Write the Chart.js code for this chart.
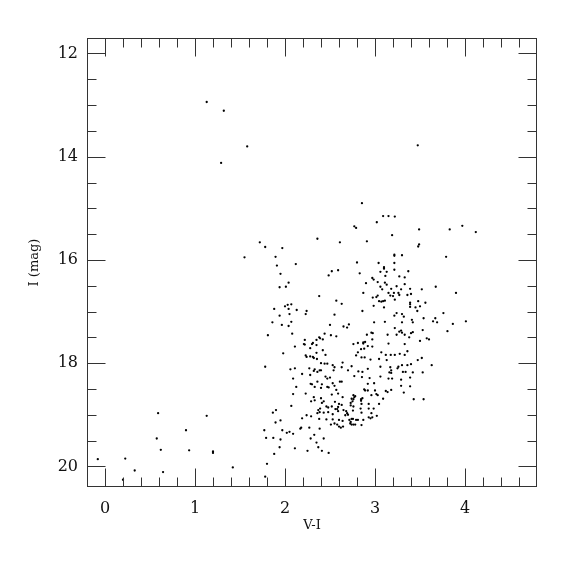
<!DOCTYPE html>
<html>
<head>
<meta charset="utf-8">
<title>CMD</title>
<script src="https://cdn.jsdelivr.net/npm/chart.js@4.4.0/dist/chart.umd.min.js"></script>
<style>
    html, body { margin: 0; padding: 0; background: #fff; }
    #wrap { width: 575px; height: 575px; }
</style>
</head>
<body>
<div id="wrap"><canvas id="cmd" width="575" height="575"></canvas></div>
<script>
// V-I colour and I magnitude of each star
const vi = [
    1.13, 1.32, 1.58, 1.29, 3.475, 2.855,
    1.72, 1.78, 1.97, 1.55, 1.895, 2.12, 1.91, 1.95, 1.94, 2.01, 2.04, 2.36, 2.61, 2.59, 2.52, 2.485,
    3.09, 3.15, 3.22, 3.02, 2.77, 2.79, 3.49, 3.83, 3.19, 2.91, 3.49, 3.48, 3.215, 3.215, 3.30, 3.79,
    2.80, 3.04, 3.215, 3.10, 3.10, 3.215, 3.37, 2.83, 3.06, 3.13, 3.115, 3.27, 3.33, 2.97, 2.985, 2.90,
    3.03, 3.11, 3.33, 3.13, 3.06, 3.24, 3.675, 3.08, 3.18, 3.29, 3.39, 3.52,
    3.97, 4.12, 3.90, 4.01, 3.865,
    2.38, 2.57, 2.63, 2.00, 2.03, 2.07, 1.88, 2.04, 2.24, 2.13, 2.23, 2.05, 1.94, 2.55, 1.86, 2.07,
    1.965, 2.04, 2.50, 2.65, 2.69, 2.71, 2.08, 1.81, 2.44, 2.51, 2.57, 2.38, 2.39, 2.35, 2.22, 2.42,
    2.21, 2.22, 2.31, 2.30, 2.35, 2.28, 2.11, 2.42, 2.35, 1.98, 2.45, 2.23, 2.24, 2.28, 2.31, 2.355,
    2.32, 2.40, 2.44, 2.47, 2.53, 2.64, 1.78, 2.06, 2.11, 2.27, 2.33, 2.32, 2.36, 2.385, 2.40, 2.55,
    2.54, 2.63, 2.70, 2.19, 2.28, 2.45, 2.47, 2.50, 2.09,
    2.87, 2.975, 3.015, 3.03, 3.15, 3.17, 3.20, 3.21, 3.26, 3.27, 3.36, 3.40, 3.48, 3.045, 3.07, 3.09,
    3.11, 3.22, 3.39, 3.39, 3.39, 2.985, 3.56, 3.45, 3.50, 3.10, 2.86, 3.47, 3.24, 3.76, 3.215, 3.30,
    3.32, 3.54, 3.67, 3.645, 3.69, 3.41, 3.42, 3.11, 2.99, 3.30, 3.53, 3.805, 3.22, 3.27, 3.29, 3.30,
    3.40, 3.42, 2.96, 2.975, 2.91, 3.14, 3.24, 3.33, 3.38, 3.575, 3.60, 2.97, 2.89, 2.87, 2.87, 2.76,
    2.81, 3.50, 3.15, 3.33, 2.92, 2.97, 2.845, 2.88, 2.81, 2.79, 3.36, 3.07, 2.85, 2.885, 3.12, 3.175,
    3.22, 3.275, 3.33, 2.95, 3.045, 3.13, 3.475, 3.52, 3.40, 3.30, 3.36, 2.74, 3.63, 3.06, 3.17, 3.18,
    3.26, 3.25, 2.815, 2.86, 2.92, 3.16, 3.18, 3.31, 3.34, 3.42, 3.53, 2.77, 2.855, 2.94, 3.06, 3.15,
    3.19, 3.29, 3.39,
    2.285, 2.30, 2.36, 2.41, 2.47, 2.485, 2.33, 2.40, 2.125, 2.53, 2.55, 2.61, 2.63, 2.57, 2.52, 2.59,
    2.64, 2.09, 2.23, 2.32, 2.33, 2.40, 2.43, 2.41, 2.29, 2.555, 2.60, 2.63, 2.59, 2.52, 2.46, 2.48,
    2.56, 2.58, 2.07, 1.90, 1.865, 2.39, 2.37, 2.385, 2.36, 2.43, 2.48, 2.53, 2.59, 2.65, 2.68, 2.69,
    2.70, 2.67, 2.24, 2.29, 2.19, 2.38, 2.46, 2.53, 2.60, 2.64, 2.715, 1.895, 1.95, 2.55, 2.58, 2.51,
    2.60, 2.62, 2.645, 2.385, 2.27, 1.77, 1.97, 2.17, 2.18, 2.02, 2.05, 2.09, 1.79, 1.87, 1.95, 2.325,
    2.285, 2.43, 2.35, 1.94, 2.11, 2.37, 2.25, 2.41, 2.485, 1.88, 1.80, 1.78,
    2.92, 2.99, 3.39, 3.29, 2.88, 2.89, 2.92, 3.00, 3.12, 3.14, 3.18, 2.96, 3.015, 3.03, 3.32, 2.76,
    2.78, 2.77, 2.74, 2.76, 2.75, 2.86, 2.845, 2.845, 3.09, 3.43, 3.54, 2.73, 2.85, 2.93, 3.045, 2.73,
    2.76, 2.84, 2.93, 2.985, 2.755, 2.85, 2.96, 3.02, 2.93, 2.95, 2.97, 2.74, 2.755, 2.79, 2.81, 2.87,
    2.73, 2.725, 2.74, 2.76, 2.78, 2.85,
    0.59, 1.13, 0.90, 0.575, 0.62, 0.935, 1.20, 1.20, -0.08, 0.225, 0.33, 0.645, 1.42, 0.20
];
const imag = [
    12.94, 13.11, 13.80, 14.12, 13.78, 14.90,
    15.66, 15.75, 15.77, 15.95, 15.94, 16.08, 16.11, 16.27, 16.53, 16.52, 16.44, 15.59, 15.66, 16.20, 16.22, 16.30,
    15.15, 15.15, 15.16, 15.27, 15.35, 15.38, 15.41, 15.41, 15.52, 15.64, 15.70, 15.74, 15.90, 15.92, 15.91, 15.94,
    16.05, 16.06, 16.06, 16.14, 16.17, 16.19, 16.22, 16.26, 16.23, 16.23, 16.31, 16.32, 16.34, 16.35, 16.38, 16.45,
    16.43, 16.44, 16.47, 16.48, 16.52, 16.51, 16.52, 16.57, 16.56, 16.57, 16.56, 16.57,
    15.34, 15.46, 16.64, 17.19, 17.24,
    16.70, 16.79, 16.85, 16.90, 16.87, 16.86, 16.95, 16.95, 16.99, 16.97, 17.05, 17.05, 17.08, 17.06, 17.21, 17.20,
    17.26, 17.28, 17.26, 17.29, 17.31, 17.25, 17.43, 17.46, 17.43, 17.46, 17.48, 17.50, 17.52, 17.55, 17.55, 17.54,
    17.63, 17.64, 17.61, 17.63, 17.65, 17.71, 17.68, 17.75, 17.80, 17.81, 17.84, 17.85, 17.88, 17.87, 17.88, 17.92,
    17.90, 18.00, 18.01, 18.01, 18.04, 17.99, 18.07, 18.12, 18.10, 18.10, 18.12, 18.15, 18.17, 18.14, 18.14, 18.08,
    18.14, 18.08, 18.14, 18.21, 18.23, 18.26, 18.30, 18.28, 18.30,
    16.64, 16.73, 16.72, 16.69, 16.64, 16.69, 16.70, 16.64, 16.64, 16.68, 16.68, 16.66, 16.80, 16.80, 16.81, 16.80,
    16.79, 16.77, 16.83, 16.86, 16.91, 16.89, 16.83, 16.92, 16.90, 16.92, 16.99, 16.99, 17.03, 17.03, 17.08, 17.05,
    17.10, 17.13, 17.13, 17.19, 17.21, 17.16, 17.21, 17.20, 17.21, 17.21, 17.36, 17.38, 17.32, 17.39, 17.37, 17.41,
    17.42, 17.40, 17.41, 17.42, 17.45, 17.45, 17.45, 17.45, 17.50, 17.52, 17.54, 17.54, 17.59, 17.60, 17.62, 17.63,
    17.61, 17.57, 17.62, 17.63, 17.67, 17.68, 17.73, 17.72, 17.79, 17.85, 17.77, 17.79, 17.89, 17.89, 17.84, 17.84,
    17.84, 17.82, 17.84, 17.93, 17.92, 17.94, 17.94, 17.90, 18.02, 18.04, 18.04, 18.06, 18.04, 18.07, 18.08, 18.14,
    18.07, 18.10, 18.16, 18.17, 18.11, 18.18, 18.19, 18.17, 18.17, 18.18, 18.18, 18.25, 18.27, 18.29, 18.26, 18.30,
    18.30, 18.32, 18.28,
    18.40, 18.41, 18.36, 18.41, 18.46, 18.47, 18.46, 18.48, 18.46, 18.39, 18.44, 18.36, 18.36, 18.52, 18.61, 18.59,
    18.66, 18.60, 18.59, 18.66, 18.72, 18.68, 18.74, 18.77, 18.74, 18.75, 18.79, 18.81, 18.85, 18.84, 18.84, 18.86,
    18.89, 18.89, 18.83, 18.91, 18.96, 18.88, 18.91, 18.95, 18.97, 18.96, 18.95, 18.99, 18.93, 18.91, 18.93, 18.97,
    19.00, 19.01, 19.01, 19.03, 19.07, 19.08, 19.09, 19.09, 19.10, 19.12, 19.10, 19.15, 19.11, 19.17, 19.19, 19.19,
    19.23, 19.25, 19.23, 19.27, 19.25, 19.30, 19.30, 19.27, 19.25, 19.35, 19.33, 19.37, 19.45, 19.45, 19.48, 19.39,
    19.46, 19.46, 19.54, 19.63, 19.65, 19.63, 19.70, 19.70, 19.74, 19.76, 19.95, 20.20,
    18.40, 18.39, 18.45, 18.44, 18.51, 18.53, 18.53, 18.53, 18.54, 18.56, 18.52, 18.62, 18.60, 18.62, 18.57, 18.62,
    18.64, 18.66, 18.69, 18.70, 18.74, 18.68, 18.70, 18.73, 18.69, 18.70, 18.70, 18.77, 18.79, 18.79, 18.79, 18.82,
    18.84, 18.88, 18.88, 18.88, 18.92, 18.96, 18.97, 19.02, 19.05, 19.07, 19.05, 19.08, 19.08, 19.10, 19.10, 19.10,
    19.14, 19.17, 19.19, 19.19, 19.19, 19.20,
    18.97, 19.02, 19.30, 19.46, 19.68, 19.69, 19.71, 19.74, 19.86, 19.85, 20.08, 20.11, 20.02, 20.26
];

const xTicks = [0, 1, 2, 3, 4];
const yTicks = [12, 14, 16, 18, 20];
const xLimits = [-0.2, 4.8];
const yLimits = [11.7, 20.4];
const xMinorStep = 0.2;
const yMinorStep = 0.5;

const SERIF = "'DejaVu Serif', 'Liberation Serif', serif";

// box around the plot with tick marks pointing inwards on all four sides
const frameTicks = {
    id: 'frameTicks',
    afterDraw(chart) {
        const { ctx, chartArea: a } = chart;
        const x = chart.scales.x, y = chart.scales.y;
        const L = Math.round(a.left) + 0.5, R = Math.round(a.right) - 0.5;
        const T = Math.round(a.top) + 0.5, B = Math.round(a.bottom) - 0.5;
        ctx.save();
        ctx.strokeStyle = '#333';
        ctx.lineWidth = 1;
        ctx.strokeRect(L, T, R - L, B - T);

        ctx.beginPath();
        const nx = Math.round((xLimits[1] - xLimits[0]) / xMinorStep);
        for (let i = 1; i < nx; i++) {
            const v = +(xLimits[0] + i * xMinorStep).toFixed(3);
            const len = Number.isInteger(v) ? 18 : 9;
            const px = Math.round(x.getPixelForValue(v)) + 0.5;
            ctx.moveTo(px, B); ctx.lineTo(px, B - len);
            ctx.moveTo(px, T); ctx.lineTo(px, T + len);
        }
        for (let v = Math.ceil(yLimits[0] / yMinorStep) * yMinorStep; v <= yLimits[1]; v += yMinorStep) {
            const len = yTicks.includes(v) ? 18 : 9;
            const py = Math.round(y.getPixelForValue(v)) + 0.5;
            ctx.moveTo(L, py); ctx.lineTo(L + len, py);
            ctx.moveTo(R, py); ctx.lineTo(R - len, py);
        }
        ctx.stroke();
        ctx.restore();
    }
};

const points = vi.map((v, i) => ({ x: v, y: imag[i] }));

new Chart(document.getElementById('cmd'), {
    type: 'scatter',
    data: {
        datasets: [{
            data: points,
            pointRadius: 1.15,
            pointHoverRadius: 1.15,
            pointBackgroundColor: '#000',
            pointBorderWidth: 0
        }]
    },
    options: {
        responsive: false,
        animation: false,
        events: [],
        layout: { padding: { top: 38, right: 38, left: 0, bottom: 0 } },
        plugins: { legend: { display: false }, tooltip: { enabled: false } },
        scales: {
            x: {
                type: 'linear',
                min: xLimits[0],
                max: xLimits[1],
                afterBuildTicks: s => { s.ticks = xTicks.map(v => ({ value: v })); },
                afterFit: s => { s.height = 88; },
                grid: { display: false, drawTicks: false },
                border: { display: false },
                ticks: { color: '#111', padding: 12, maxRotation: 0, font: { family: SERIF, size: 16 } },
                title: { display: true, text: 'V-I', color: '#111', font: { family: SERIF, size: 13 }, padding: { bottom: 42 } }
            },
            y: {
                type: 'linear',
                reverse: true,
                min: yLimits[0],
                max: yLimits[1],
                afterBuildTicks: s => { s.ticks = yTicks.map(v => ({ value: v })); },
                afterFit: s => { s.width = 87; },
                grid: { display: false, drawTicks: false },
                border: { display: false },
                ticks: { color: '#111', padding: 9, font: { family: SERIF, size: 16 } },
                title: { display: true, text: 'I (mag)', color: '#111', font: { family: SERIF, size: 13 }, padding: { top: 27 } }
            }
        }
    },
    plugins: [frameTicks]
});
</script>
</body>
</html>
